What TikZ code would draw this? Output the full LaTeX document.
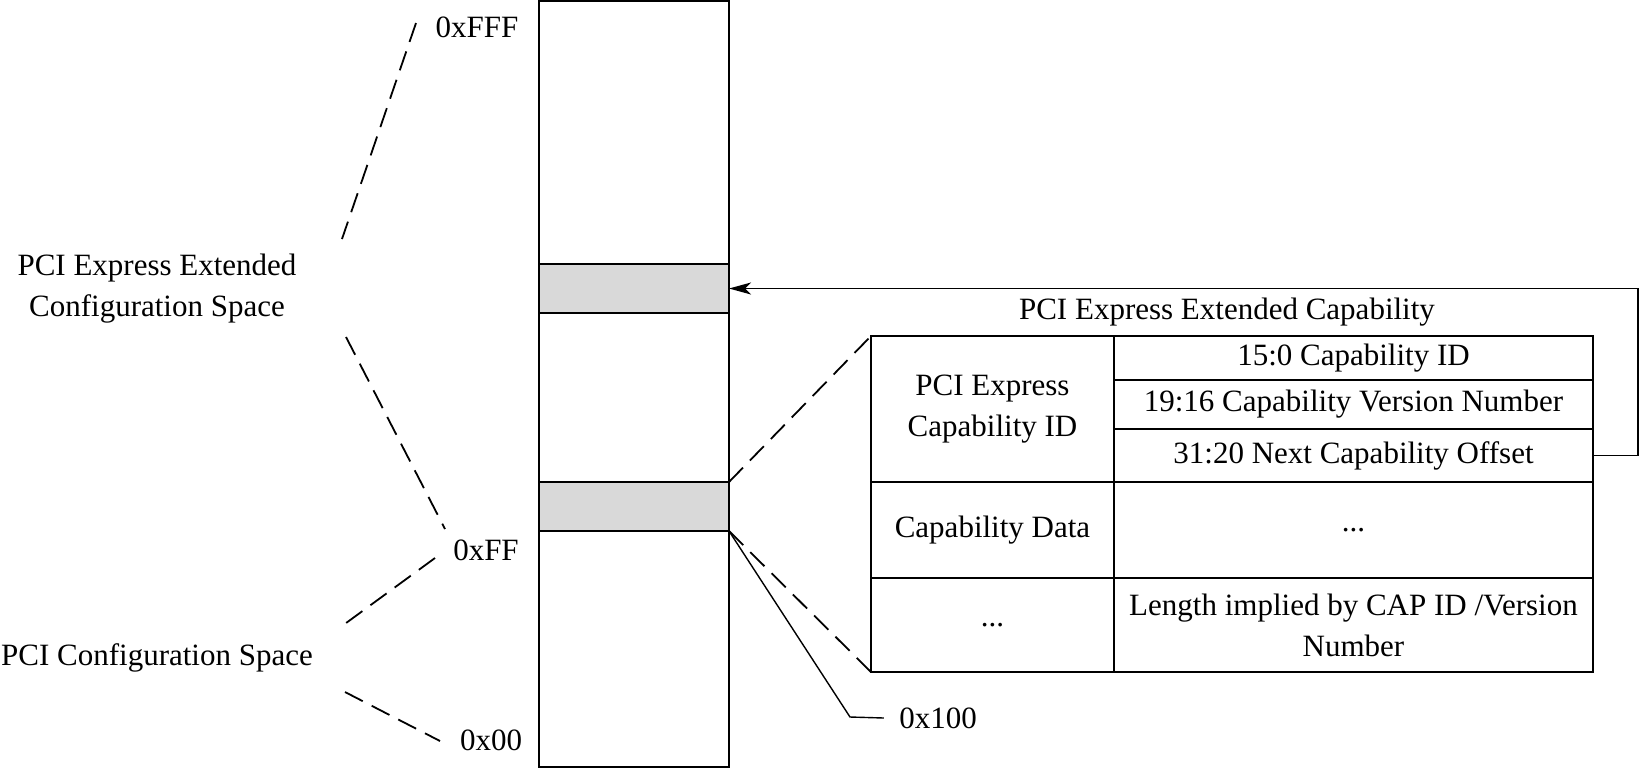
\documentclass[tikz,border=0pt]{standalone}
\usepackage{fontspec}
\setmainfont{Liberation Serif}
\usetikzlibrary{arrows.meta}
\begin{document}
\begin{tikzpicture}[x=0.5pt,y=-0.5pt,
  box/.style={draw,line width=1.3pt,inner sep=0pt,outer sep=0pt,anchor=north west},
  band/.style={box,fill=black!15},
  cell/.style={box,font=\fontsize{15.5}{20.5}\selectfont,align=center},
  lbl/.style={font=\fontsize{15.5}{20.5}\selectfont,inner sep=0pt,align=center},
  dsh/.style={line width=0.9pt,dash pattern=on 10pt off 5pt},
  conn/.style={line width=0.7pt},
]
\useasboundingbox (0,0) rectangle (1640,768);
% memory column
\node[box,minimum width=95pt,minimum height=383pt] (col) at (539,1) {};
\node[band,minimum width=95pt,minimum height=24.5pt] (b1) at (539,264) {};
\node[band,minimum width=95pt,minimum height=24.5pt] (b2) at (539,482) {};
% labels
\node[lbl] (fff) at (477,27) {0xFFF};
\node[lbl] (ff) at (486,550) {0xFF};
\node[lbl] (z) at (491,740) {0x00};
\node[lbl] (ext) at (157,289) {PCI Express Extended\\Configuration Space};
\node[lbl] (cfg) at (157,658) {PCI Configuration Space};
\node[lbl] (title) at (1227,312) {PCI Express Extended Capability};
\node[lbl] (x100) at (938,718) {0x100};
% table
\node[cell,minimum width=121.5pt,minimum height=73pt] (c11) at (871,336) {PCI Express\\Capability ID};
\node[cell,minimum width=239.5pt,minimum height=22pt] (r1) at (1114,336) {15:0 Capability ID};
\node[cell,minimum width=239.5pt,minimum height=24.5pt] (r2) at (1114,380) {19:16 Capability Version Number};
\node[cell,minimum width=239.5pt,minimum height=26.5pt] (r3) at (1114,429) {31:20 Next Capability Offset};
\node[cell,minimum width=121.5pt,minimum height=48pt] (c21) at (871,482) {Capability Data};
\node[cell,minimum width=239.5pt,minimum height=48pt] (r4) at (1114,482) {...};
\node[cell,minimum width=121.5pt,minimum height=47pt] (c31) at (871,578) {...};
\node[cell,minimum width=239.5pt,minimum height=47pt] (r5) at (1114,578) {Length implied by CAP ID /Version\\Number};
% dashed brackets
\coordinate (d1a) at (416,23);  \coordinate (d1b) at (342,239);
\coordinate (d2a) at (346,337); \coordinate (d2b) at (445,529);
\coordinate (d3a) at (435,558); \coordinate (d3b) at (342,626);
\coordinate (d4a) at (345,692); \coordinate (d4b) at (440,741);
\draw[dsh] (d1a) -- (d1b);
\draw[dsh] (d2a) -- (d2b);
\draw[dsh] (d3a) -- (d3b);
\draw[dsh] (d4a) -- (d4b);
\draw[dsh] (b2.north east) -- (c11.north west);
\draw[dsh] (b2.south east) -- (c31.south west);
% 0x100 leader
\coordinate (k) at (850,717);
\draw[conn] (b2.south east) -- (k) -- ([xshift=-7.5pt]x100.west);
% next capability arrow
\draw[conn,-{Stealth[length=11pt,width=6pt,inset=3pt]}] (r3.east) -- ++(45,0) |- (b1.east);
\end{tikzpicture}
\end{document}
